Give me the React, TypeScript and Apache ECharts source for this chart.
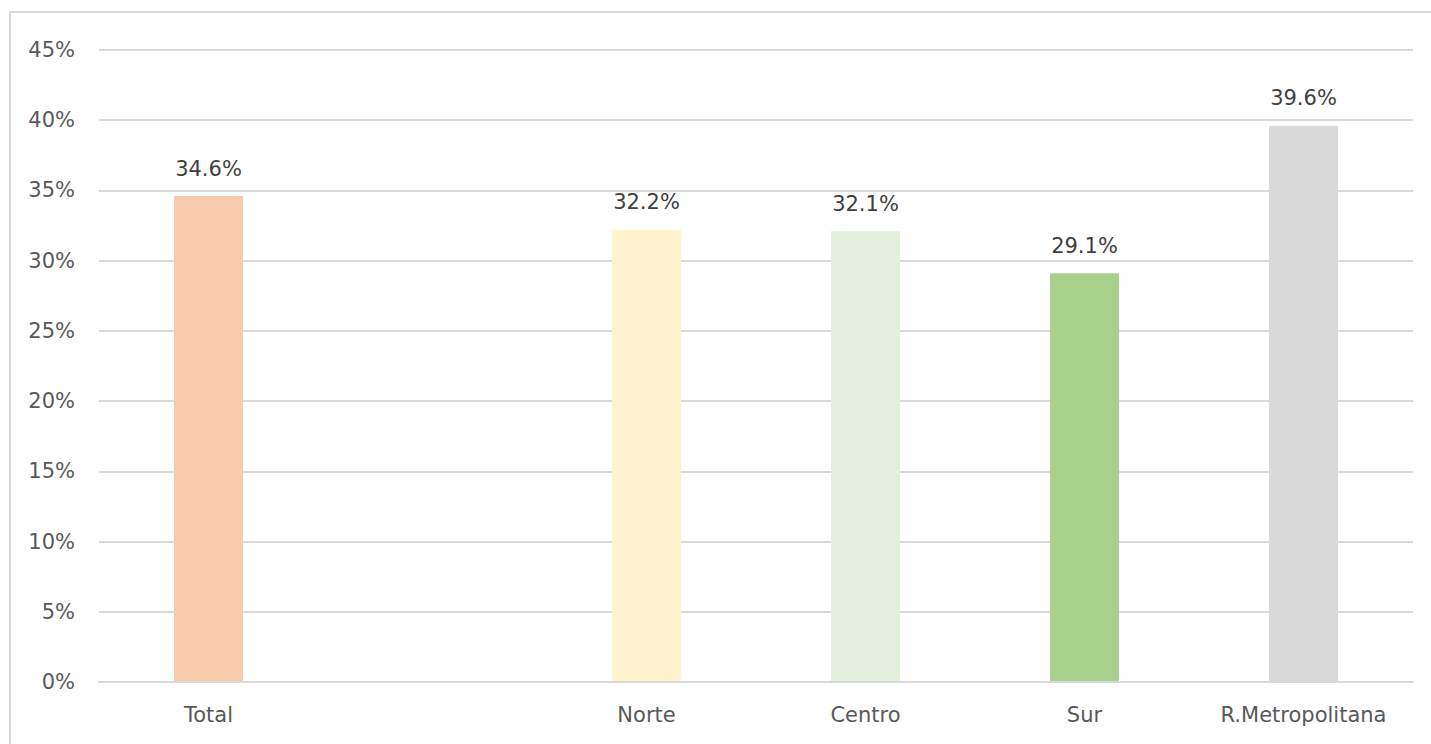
import React, { useEffect, useRef } from "react";
import * as echarts from "echarts";

const categories = ["Total", "", "Norte", "Centro", "Sur", "R.Metropolitana"];
const values: (number | null)[] = [34.6, null, 32.2, 32.1, 29.1, 39.6];
const barColors = ["#F8CBAD", "#FFFFFF", "#FFF2CC", "#E2EFDA", "#A9D18E", "#D9D9D9"];
const yTicks = { min: 0, max: 45, interval: 5 };

export default function App() {
  const ref = useRef<HTMLDivElement>(null);
  useEffect(() => {
    document.body.style.margin = "0";
    const chart = echarts.init(ref.current!, null, { renderer: "svg" });
    chart.setOption({
      animation: false,
      backgroundColor: "#ffffff",
      grid: { left: 99, right: 18, top: 50, bottom: 62, containLabel: false },
      graphic: [
        {
          type: "rect",
          shape: { x: 10, y: 12, width: 1460, height: 780 },
          style: { fill: "none", stroke: "#d9d9d9", lineWidth: 2 },
          silent: true,
        },
      ],
      xAxis: {
        type: "category",
        data: categories,
        z: 3,
        axisLine: { show: true, lineStyle: { color: "#d9d9d9", width: 2 } },
        axisTick: { show: false },
        axisLabel: {
          color: "#595959",
          fontFamily: "DejaVu Sans",
          fontSize: 21,
          margin: 22,
          interval: 0,
        },
      },
      yAxis: {
        type: "value",
        min: yTicks.min,
        max: yTicks.max,
        interval: yTicks.interval,
        axisLine: { show: false },
        axisTick: { show: false },
        splitLine: { lineStyle: { color: "#d9d9d9", width: 2 } },
        axisLabel: {
          color: "#595959",
          fontFamily: "DejaVu Sans",
          fontSize: 21,
          margin: 24,
          padding: [5, 0, 0, 0],
          formatter: (v: number) => v + "%",
        },
      },
      series: [
        {
          type: "bar",
          barWidth: "31.5%",
          data: values.map((v, i) => ({ value: v, itemStyle: { color: barColors[i] } })),
          label: {
            show: true,
            position: "top",
            distance: 17,
            color: "#404040",
            fontFamily: "DejaVu Sans",
            fontSize: 21,
            formatter: (p: any) => (p.value == null ? "" : p.value.toFixed(1) + "%"),
          },
        },
      ],
    });
    return () => chart.dispose();
  }, []);
  return <div ref={ref} style={{ position: "absolute", left: 0, top: 0, width: 1431, height: 744 }} />;
}
